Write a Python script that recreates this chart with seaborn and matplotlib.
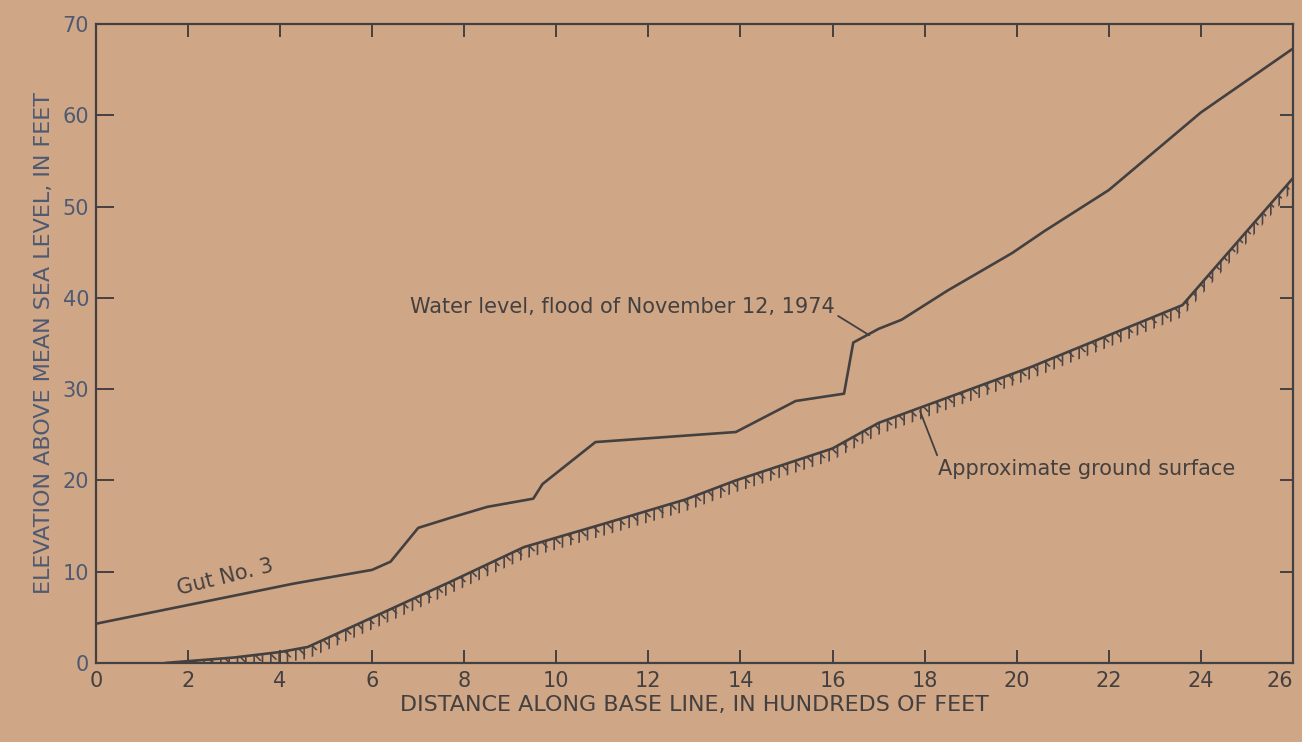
import numpy as np
import pandas as pd
import matplotlib
matplotlib.use('Agg')
import matplotlib.pyplot as plt
import seaborn as sns

# Water level, flood of November 12, 1974 (hundreds of feet, feet above MSL)
water_x = [0, 4.3, 6.0, 6.4, 7.0, 7.7, 8.5, 9.5, 9.7, 10.85, 13.9, 15.2, 16.25, 16.45,
           17.0, 17.5, 18.5, 19.9, 20.6, 22.0, 24.0, 26.0]
water_y = [4.3, 8.7, 10.2, 11.1, 14.8, 15.9, 17.1, 18.0, 19.6, 24.2, 25.3, 28.7, 29.5, 35.1,
           36.6, 37.6, 40.8, 44.9, 47.3, 51.8, 60.3, 67.3]

# Approximate ground surface
ground_x = [1.5, 2.0, 3.0, 4.0, 4.6, 6.4, 7.7, 9.3, 11.0, 12.8, 13.9, 16.0, 17.0, 20.3, 23.6, 26.0]
ground_y = [0, 0.2, 0.6, 1.2, 1.75, 5.9, 8.9, 12.7, 15.2, 17.9, 20.0, 23.5, 26.3, 32.4, 39.2, 53.1]

x_ticks = list(range(0, 27, 2))
y_ticks = list(range(0, 71, 10))

paper = '#cfa787'
ink = '#454040'
blue_ink = '#4f5a72'

sns.set_theme(style='ticks')
plt.rcParams['font.family'] = ['DejaVu Sans']
plt.rcParams['hatch.linewidth'] = 1.2

water = pd.DataFrame({'x': water_x, 'y': water_y})
ground = pd.DataFrame({'x': ground_x, 'y': ground_y})

fig = plt.figure(figsize=(13.02, 7.42), dpi=100, facecolor=paper)
ax = fig.add_axes([0.0737, 0.1065, 0.9193, 0.8612])
ax.set_facecolor(paper)

sns.lineplot(data=water, x='x', y='y', ax=ax, color=ink, linewidth=1.9, sort=False)
sns.lineplot(data=ground, x='x', y='y', ax=ax, color=ink, linewidth=1.9, sort=False)

# grass-like hatching just under the ground line
gx = np.array(ground_x)
gy = np.array(ground_y)
ax.fill_between(gx, gy, np.maximum(gy - 1.3, 0), facecolor='none', edgecolor='#4d4545',
                linewidth=0, hatch='||')
ax.fill_between(gx, gy, np.maximum(gy - 0.8, 0), facecolor='none', edgecolor='#4d4545',
                linewidth=0, hatch='\\\\')

ax.set_xlim(0, 26)
ax.set_ylim(0, 70)
ax.set_xticks(x_ticks)
ax.set_yticks(y_ticks)
ax.set_xticklabels([str(t) for t in x_ticks], fontsize=15, color=ink)
ax.set_yticklabels([str(t) for t in y_ticks], fontsize=15, color=blue_ink)
ax.get_xticklabels()[-1].set_horizontalalignment('right')

for s in ax.spines.values():
    s.set_visible(True)
    s.set_color(ink)
    s.set_linewidth(1.6)

ax.tick_params(axis='both', direction='in', top=True, right=False, color=ink, width=1.4)
ax.tick_params(axis='x', length=9.5, pad=6)
ax.tick_params(axis='y', length=13, pad=5)

# right-hand ticks are shorter than the left ones
ax_r = ax.twinx()
ax_r.set_ylim(0, 70)
ax_r.set_yticks(y_ticks)
ax_r.tick_params(axis='y', direction='in', length=9.5, width=1.4, color=ink, labelright=False)
ax_r.grid(False)
for s in ax_r.spines.values():
    s.set_visible(False)

ax.set_xlabel('DISTANCE ALONG BASE LINE, IN HUNDREDS OF FEET', fontsize=16, color=ink, labelpad=3)
ax.set_ylabel('ELEVATION ABOVE MEAN SEA LEVEL, IN FEET', fontsize=16, color=blue_ink, labelpad=6)

ax.annotate('Water level, flood of November 12, 1974', xy=(16.8, 35.9), xytext=(16.05, 39.0),
            ha='right', va='center', fontsize=15, color=ink,
            arrowprops=dict(arrowstyle='-', color=ink, lw=1.3, relpos=(1.0, 0.15),
                            shrinkA=0, shrinkB=0))
ax.annotate('Approximate ground surface', xy=(17.9, 27.6), xytext=(18.3, 21.3),
            ha='left', va='center', fontsize=15, color=ink,
            arrowprops=dict(arrowstyle='-', color=ink, lw=1.3, relpos=(0.0, 1.0),
                            shrinkA=0, shrinkB=0))
ax.text(2.8, 9.4, 'Gut No. 3', rotation=14, rotation_mode='anchor', ha='center', va='center',
        fontsize=15, color=ink)

fig.savefig('out.png', dpi=100, facecolor=paper)
